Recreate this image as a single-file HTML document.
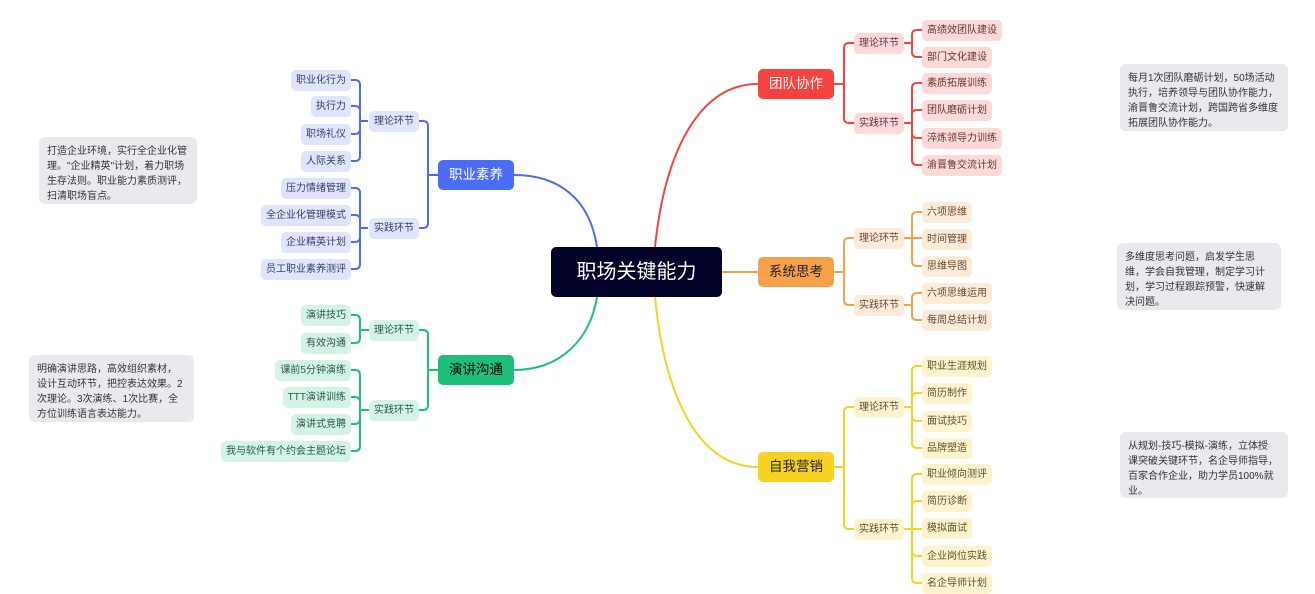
<!DOCTYPE html>
<html><head><meta charset="utf-8"><style>
body{margin:0;width:1315px;height:590px;background:#fff;position:relative;overflow:hidden;font-family:"Liberation Sans","Noto Sans CJK SC",sans-serif}
.b{position:absolute;height:21px;line-height:21px;font-size:10px;padding:0 5px;border-radius:5px;white-space:nowrap;box-sizing:border-box}
.m{position:absolute;width:76px;height:30px;line-height:30px;text-align:center;font-size:13.5px;border-radius:5px}
.n{position:absolute;background:#ebe9ee;border-radius:6px;font-size:10px;line-height:15px;color:#333;padding:7px 8px;box-sizing:border-box}
.L{background:#dfe4ff;color:#3a3f6a}
.G{background:#d3f3e5;color:#2b5a45}
.R{background:#fdd9d9;color:#6a3535}
.O{background:#fdebd9;color:#6a4a30}
.Y{background:#fdf3cf;color:#5e5228}
svg{position:absolute;left:0;top:0}
</style></head><body>
<svg width="1315" height="590" fill="none" stroke-width="2">
<g stroke="#4a6cf7">
<path d="M597 247 C590 200 560 175 514 175"/>
<path d="M438 175 H428 V126 Q428 121 423 121 H419"/>
<path d="M428 175 V223 Q428 228 423 228 H419"/>
<path d="M368 121 H360 V85 Q360 80 355 80 H351"/>
<path d="M360 121 V111 Q360 106 355 106 H351"/>
<path d="M360 121 V129 Q360 134 355 134 H351"/>
<path d="M360 121 V156 Q360 161 355 161 H351"/>
<path d="M368 228 H360 V193 Q360 188 355 188 H351"/>
<path d="M360 228 V220 Q360 215 355 215 H351"/>
<path d="M360 228 V237 Q360 242 355 242 H351"/>
<path d="M360 228 V264 Q360 269 355 269 H351"/>
</g>
<g stroke="#1cc07a">
<path d="M597 297 C590 340 560 370 514 370"/>
<path d="M438 370 H428 V335 Q428 330 423 330 H419"/>
<path d="M428 370 V405 Q428 410 423 410 H419"/>
<path d="M370 330 H360 V320 Q360 315 355 315 H351"/>
<path d="M360 330 V338 Q360 343 355 343 H351"/>
<path d="M370 410 H360 V375 Q360 370 355 370 H351"/>
<path d="M360 410 V402 Q360 397 355 397 H351"/>
<path d="M360 410 V419 Q360 424 355 424 H351"/>
<path d="M360 410 V446 Q360 451 355 451 H351"/>
</g>
<g stroke="#f5433f">
<path d="M655 247 C665 150 700 84 758 84"/>
<path d="M834 84 H844 V48 Q844 43 849 43 H854"/>
<path d="M844 84 V118 Q844 123 849 123 H854"/>
<path d="M903 43 H912 V35 Q912 30 917 30 H922"/>
<path d="M912 43 V52 Q912 57 917 57 H922"/>
<path d="M903 123 H912 V88 Q912 83 917 83 H922"/>
<path d="M912 123 V115 Q912 110 917 110 H922"/>
<path d="M912 123 V133 Q912 138 917 138 H922"/>
<path d="M912 123 V160 Q912 165 917 165 H922"/>
</g>
<g stroke="#f5a04a">
<path d="M722 272 H758"/>
<path d="M834 272 H844 V243 Q844 238 849 238 H854"/>
<path d="M844 272 V300 Q844 305 849 305 H854"/>
<path d="M903 238 H912 V217 Q912 212 917 212 H922"/>
<path d="M912 238 H922"/>
<path d="M912 238 V261 Q912 266 917 266 H922"/>
<path d="M903 305 H912 V298 Q912 293 917 293 H922"/>
<path d="M912 305 V315 Q912 320 917 320 H922"/>
</g>
<g stroke="#f5d320">
<path d="M655 297 C665 400 700 467 758 467"/>
<path d="M834 467 H844 V412 Q844 407 849 407 H854"/>
<path d="M844 467 V524 Q844 529 849 529 H854"/>
<path d="M903 407 H912 V371 Q912 366 917 366 H922"/>
<path d="M912 407 V398 Q912 393 917 393 H922"/>
<path d="M912 407 V416 Q912 421 917 421 H922"/>
<path d="M912 407 V443 Q912 448 917 448 H922"/>
<path d="M903 529 H912 V479 Q912 474 917 474 H922"/>
<path d="M912 529 V506 Q912 501 917 501 H922"/>
<path d="M912 529 H922"/>
<path d="M912 529 V551 Q912 556 917 556 H922"/>
<path d="M912 529 V578 Q912 583 917 583 H922"/>
</g>
</svg>

<div style="position:absolute;left:551px;top:247px;width:171px;height:50px;background:#03032a;border-radius:5px;color:#fff;font-size:20px;line-height:50px;text-align:center">职场关键能力</div>

<div class="m" style="left:438px;top:160px;background:#4a6cf7;color:#fff">职业素养</div>
<div class="m" style="left:438px;top:355px;background:#1cc07a;color:#000">演讲沟通</div>
<div class="m" style="left:758px;top:69px;background:#f5433f;color:#fff">团队协作</div>
<div class="m" style="left:758px;top:257px;background:#f5a04a;color:#222">系统思考</div>
<div class="m" style="left:758px;top:452px;background:#f5d320;color:#222">自我营销</div>

<div class="b L" style="left:369px;top:111px">理论环节</div>
<div class="b L" style="left:369px;top:218px">实践环节</div>
<div class="b L" style="right:964px;top:70px">职业化行为</div>
<div class="b L" style="right:964px;top:96px">执行力</div>
<div class="b L" style="right:964px;top:124px">职场礼仪</div>
<div class="b L" style="right:964px;top:151px">人际关系</div>
<div class="b L" style="right:964px;top:178px">压力情绪管理</div>
<div class="b L" style="right:964px;top:205px">全企业化管理模式</div>
<div class="b L" style="right:964px;top:232px">企业精英计划</div>
<div class="b L" style="right:964px;top:259px">员工职业素养测评</div>

<div class="b G" style="left:369px;top:320px">理论环节</div>
<div class="b G" style="left:369px;top:400px">实践环节</div>
<div class="b G" style="right:964px;top:305px">演讲技巧</div>
<div class="b G" style="right:964px;top:333px">有效沟通</div>
<div class="b G" style="right:964px;top:360px">课前5分钟演练</div>
<div class="b G" style="right:964px;top:387px">TTT演讲训练</div>
<div class="b G" style="right:964px;top:414px">演讲式竞聘</div>
<div class="b G" style="right:964px;top:441px">我与软件有个约会主题论坛</div>

<div class="b R" style="left:854px;top:33px">理论环节</div>
<div class="b R" style="left:854px;top:113px">实践环节</div>
<div class="b R" style="left:922px;top:20px">高绩效团队建设</div>
<div class="b R" style="left:922px;top:47px">部门文化建设</div>
<div class="b R" style="left:922px;top:73px">素质拓展训练</div>
<div class="b R" style="left:922px;top:100px">团队磨砺计划</div>
<div class="b R" style="left:922px;top:128px">淬炼领导力训练</div>
<div class="b R" style="left:922px;top:155px">渝晋鲁交流计划</div>

<div class="b O" style="left:854px;top:228px">理论环节</div>
<div class="b O" style="left:854px;top:295px">实践环节</div>
<div class="b O" style="left:922px;top:202px">六项思维</div>
<div class="b O" style="left:922px;top:229px">时间管理</div>
<div class="b O" style="left:922px;top:256px">思维导图</div>
<div class="b O" style="left:922px;top:283px">六项思维运用</div>
<div class="b O" style="left:922px;top:310px">每周总结计划</div>

<div class="b Y" style="left:854px;top:397px">理论环节</div>
<div class="b Y" style="left:854px;top:519px">实践环节</div>
<div class="b Y" style="left:922px;top:356px">职业生涯规划</div>
<div class="b Y" style="left:922px;top:383px">简历制作</div>
<div class="b Y" style="left:922px;top:411px">面试技巧</div>
<div class="b Y" style="left:922px;top:438px">品牌塑造</div>
<div class="b Y" style="left:922px;top:464px">职业倾向测评</div>
<div class="b Y" style="left:922px;top:491px">简历诊断</div>
<div class="b Y" style="left:922px;top:518px">模拟面试</div>
<div class="b Y" style="left:922px;top:546px">企业岗位实践</div>
<div class="b Y" style="left:922px;top:573px">名企导师计划</div>

<div class="n" style="left:39px;top:137px;width:158px;height:67px">打造企业环境，实行全企业化管理。"企业精英"计划，着力职场生存法则。职业能力素质测评，扫清职场盲点。</div>
<div class="n" style="left:29px;top:355px;width:165px;height:67px">明确演讲思路，高效组织素材，设计互动环节，把控表达效果。2次理论。3次演练、1次比赛，全方位训练语言表达能力。</div>
<div class="n" style="left:1120px;top:64px;width:168px;height:67px">每月1次团队磨砺计划，50场活动执行，培养领导与团队协作能力，渝晋鲁交流计划，跨国跨省多维度拓展团队协作能力。</div>
<div class="n" style="left:1117px;top:243px;width:164px;height:67px">多维度思考问题，启发学生思维，学会自我管理，制定学习计划，学习过程跟踪预警，快速解决问题。</div>
<div class="n" style="left:1120px;top:432px;width:168px;height:66px;white-space:nowrap">从规划-技巧-模拟-演练，立体授<br>课突破关键环节，名企导师指导，<br>百家合作企业，助力学员100%就<br>业。</div>
</body></html>
